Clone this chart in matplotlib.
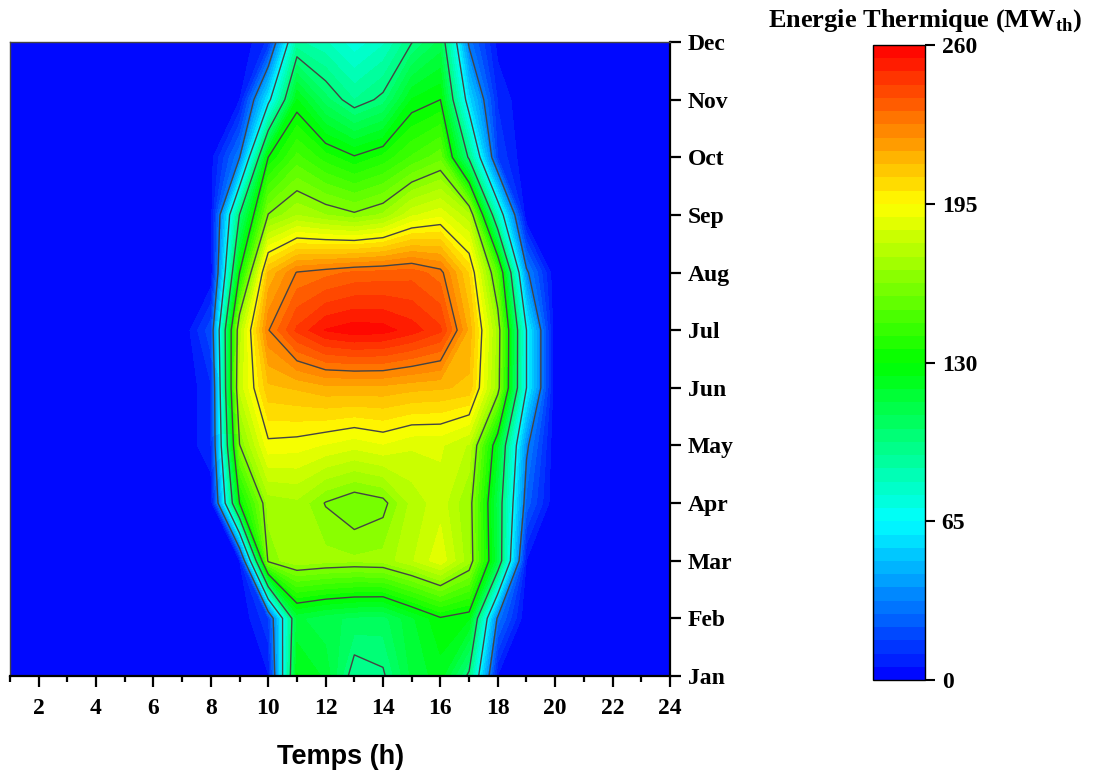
"""Heatmap of monthly thermal energy output by hour of day."""

import matplotlib

matplotlib.use("Agg")

import matplotlib.pyplot as plt
import numpy as np
from matplotlib.colors import LinearSegmentedColormap

plt.rcParams["font.family"] = ["Liberation Serif", "DejaVu Serif"]
plt.rcParams["font.weight"] = "bold"
plt.rcParams["mathtext.fontset"] = "custom"
plt.rcParams["mathtext.rm"] = "Liberation Serif:bold"
plt.rcParams["mathtext.bf"] = "Liberation Serif:bold"

# --- data: energy (MW_th) per hour (1..24), one list per month -----------
hours = list(range(1, 25))
month_labels = ["Jan", "Feb", "Mar", "Apr", "May", "Jun",
                "Jul", "Aug", "Sep", "Oct", "Nov", "Dec"]

jan = [0, 0, 0, 0, 0, 0, 0, 0, 0, 5, 125, 118, 92, 96, 115, 122, 95, 5, 0, 0, 0, 0, 0, 0]
feb = [0, 0, 0, 0, 0, 0, 0, 0, 0, 15, 115, 110, 107, 106, 118, 129, 125, 30, 0, 0, 0, 0, 0, 0]
mar = [0, 0, 0, 0, 0, 0, 0, 0, 5, 165, 172, 170, 169, 170, 178, 188, 170, 112, 5, 0, 0, 0, 0, 0]
apr = [0, 0, 0, 0, 0, 0, 0, 0, 130, 170, 172, 162, 157, 160, 175, 182, 168, 110, 25, 0, 0, 0, 0, 0]
may = [0, 0, 0, 0, 0, 0, 0, 10, 162, 193, 192, 189, 186, 189, 185, 185, 178, 120, 35, 0, 0, 0, 0, 0]
jun = [0, 0, 0, 0, 0, 0, 0, 10, 180, 210, 212, 215, 215, 215, 213, 212, 210, 168, 65, 0, 0, 0, 0, 0]
jul = [0, 0, 0, 0, 0, 0, 0, 20, 175, 227, 245, 255, 258, 257, 252, 245, 215, 170, 65, 0, 0, 0, 0, 0]
aug = [0, 0, 0, 0, 0, 0, 0, 0, 130, 212, 228, 231, 234, 235, 236, 230, 205, 150, 35, 0, 0, 0, 0, 0]
sep = [0, 0, 0, 0, 0, 0, 0, 2, 98, 163, 173, 168, 164, 169, 183, 188, 175, 80, 0, 0, 0, 0, 0, 0]
octo = [0, 0, 0, 0, 0, 0, 0, 3, 32, 130, 148, 138, 131, 137, 147, 155, 95, 16, 0, 0, 0, 0, 0, 0]
nov = [0, 0, 0, 0, 0, 0, 0, 0, 5, 60, 125, 105, 92, 100, 125, 130, 56, 10, 0, 0, 0, 0, 0, 0]
dec = [0, 0, 0, 0, 0, 0, 0, 0, 0, 12, 88, 82, 72, 80, 97, 110, 30, 3, 0, 0, 0, 0, 0, 0]

cbar_ticks = [0, 65, 130, 195, 260]

energy = np.array([jan, feb, mar, apr, may, jun, jul, aug, sep, octo, nov, dec], dtype=float)
months = np.arange(1, len(month_labels) + 1)

cmap = LinearSegmentedColormap.from_list(
    "origin_rainbow",
    [(0.0, "#0000ff"), (0.25, "#00ffff"), (0.5, "#00ff00"), (0.75, "#ffff00"), (1.0, "#ff0000")],
)
fill_levels = np.linspace(0, 260, 49)
line_levels = np.arange(1, 8) * 32.5

fig = plt.figure(figsize=(10.94, 7.74), dpi=100)
ax = fig.add_axes([0.0091, 0.1266, 0.6033, 0.8191])
cax = fig.add_axes([0.798, 0.1214, 0.0475, 0.8205])

cf = ax.contourf(hours, months, energy, levels=fill_levels, cmap=cmap)
ax.contour(hours, months, energy, levels=line_levels, colors="#444444", linewidths=1.0)

ax.set_xlim(1, 24)
ax.set_ylim(1, 12)
ax.set_xticks(range(2, 25, 2))
ax.set_xticks(range(1, 24, 2), minor=True)
ax.set_yticks(months)
ax.set_yticklabels(month_labels)
ax.yaxis.tick_right()
ax.tick_params(axis="x", which="major", direction="out", length=8, width=1.6, labelsize=17, pad=8)
ax.tick_params(axis="x", which="minor", direction="out", length=4.5, width=1.6)
ax.tick_params(axis="y", which="major", direction="out", length=8, width=1.6, labelsize=17, pad=5)
for side in ("bottom", "right"):
    ax.spines[side].set_linewidth(1.6)
for side in ("top", "left"):
    ax.spines[side].set_linewidth(1.0)
    ax.spines[side].set_color("#444444")

fig.text(0.3117, 0.022, "Temps (h)", ha="center", va="center",
         fontsize=19.5, fontweight="bold", family=["Liberation Sans", "DejaVu Sans"])

cb = fig.colorbar(cf, cax=cax, ticks=cbar_ticks)
cb.outline.set_linewidth(1.0)
cax.tick_params(length=7, width=1.5, labelsize=17, pad=5)
fig.text(0.8455, 0.974, r"Energie Thermique (MW$_{\mathbf{th}}$)", ha="center", va="center",
         fontsize=19, fontweight="bold")

fig.savefig("out.png", dpi=100)
